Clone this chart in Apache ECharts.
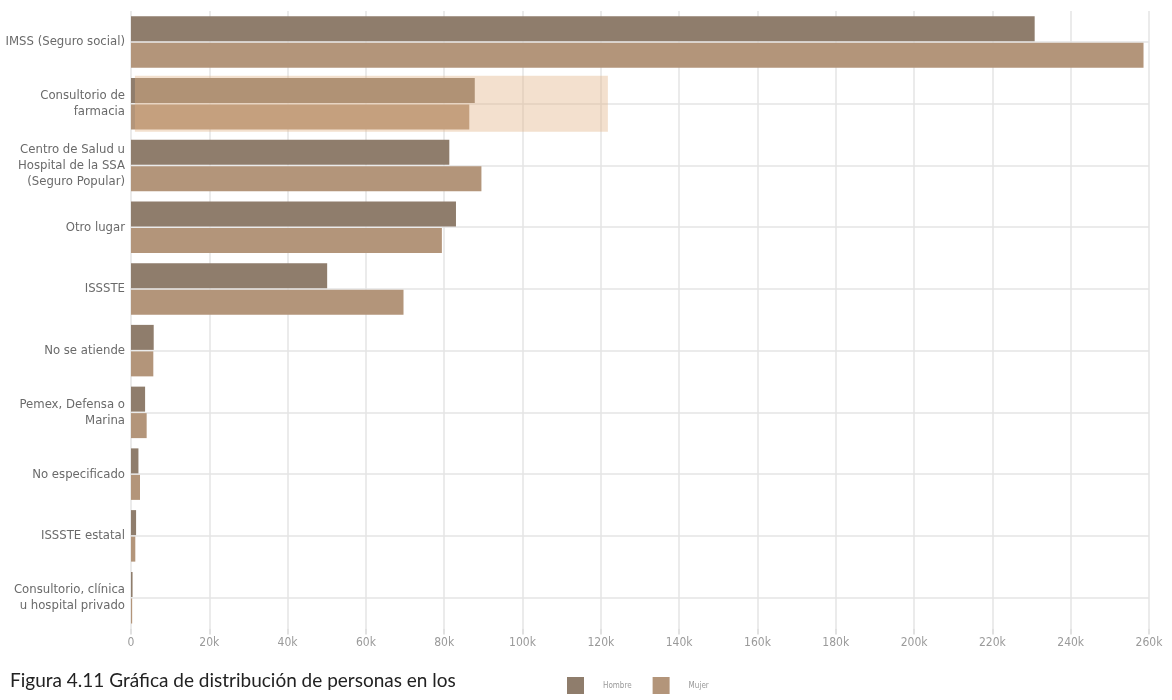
<!DOCTYPE html>
<html>
<head>
<meta charset="utf-8">
<script src="https://cdn.jsdelivr.net/npm/echarts@6/dist/echarts.min.js"></script>
<style>
html,body{margin:0;padding:0;background:#fff;}
#chart{width:1172px;height:700px;}
</style>
</head>
<body>
<div id="chart"></div>
<script>
const categories = [
  'IMSS (Seguro social)',
  'Consultorio de\nfarmacia',
  'Centro de Salud u\nHospital de la SSA\n(Seguro Popular)',
  'Otro lugar',
  'ISSSTE',
  'No se atiende',
  'Pemex, Defensa o\nMarina',
  'No especificado',
  'ISSSTE estatal',
  'Consultorio, clínica\nu hospital privado'
];
const hombre = [230800, 87800, 81300, 83000, 50100, 5800, 3600, 1900, 1300, 400];
const mujer  = [258600, 86400, 89500, 79400, 69600, 5700, 4000, 2300, 1100, 300];
const highlightBase = [null, 1000, null, null, null, null, null, null, null, null];
const highlightSpan = [null, 120800, null, null, null, null, null, null, null, null];
const xTicks = { min: 0, max: 260000, interval: 20000 };
const caption = 'Figura 4.11 Gráfica de distribución de personas en los\nestablecimientos de salud en los que se atienden';

const condensed = "'Liberation Sans Narrow', 'DejaVu Sans Condensed', 'Roboto', sans-serif";
const chart = echarts.init(document.getElementById('chart'));
chart.setOption({
  animation: false,
  backgroundColor: '#ffffff',
  title: {
    text: caption,
    left: 5,
    top: 662,
    textStyle: { fontFamily: "'Lato', 'Noto Sans', sans-serif", fontSize: 19, fontWeight: 'normal', color: '#222', lineHeight: 27 }
  },
  legend: {
    data: ['Hombre', 'Mujer'],
    left: 562,
    top: 672,
    itemWidth: 17,
    itemHeight: 17,
    itemGap: 21,
    icon: 'rect',
    textStyle: { fontFamily: condensed, fontSize: 8, color: '#999', padding: [0, 0, 0, 14] }
  },
  grid: { left: 131, right: 23, top: 11, bottom: 71.5, containLabel: false },
  xAxis: {
    type: 'value',
    min: xTicks.min, max: xTicks.max, interval: xTicks.interval,
    axisLine: { show: false },
    axisTick: { show: true, length: 6, lineStyle: { color: '#d8d8d8', width: 1.5 } },
    axisLabel: {
      margin: 8, fontFamily: condensed, fontSize: 12, color: '#9a9a9a',
      formatter: v => v === 0 ? '0' : (v / 1000) + 'k'
    },
    splitLine: { show: true, lineStyle: { color: '#e4e4e4', width: 1.5 } }
  },
  yAxis: [{
    type: 'category',
    data: categories,
    inverse: true,
    axisLine: { show: false },
    axisTick: { show: false, alignWithLabel: true },
    axisLabel: { margin: 6, fontFamily: condensed, fontSize: 13, color: '#6a6a6a', lineHeight: 16, align: 'right' },
    splitLine: { show: true, alignWithLabel: true, lineStyle: { color: '#e4e4e4', width: 1.5 } }
  }, {
    type: 'category',
    data: categories,
    inverse: true,
    show: false
  }],
  series: [{
    name: 'Hombre',
    type: 'bar',
    data: hombre,
    barWidth: 25,
    barGap: '6%',
    z: 2,
    itemStyle: { color: '#8f7d6c' }
  }, {
    name: 'Mujer',
    type: 'bar',
    data: mujer,
    barWidth: 25,
    barGap: '6%',
    z: 2,
    itemStyle: { color: '#b3957a' }
  }, {
    name: 'base',
    type: 'bar',
    yAxisIndex: 1,
    stack: 'hl',
    data: highlightBase,
    barWidth: 56,
    z: 3,
    silent: true,
    itemStyle: { color: 'rgba(0,0,0,0)' }
  }, {
    name: 'resaltado',
    type: 'bar',
    yAxisIndex: 1,
    stack: 'hl',
    data: highlightSpan,
    barWidth: 56,
    z: 3,
    silent: true,
    itemStyle: { color: 'rgba(226,178,132,0.4)' }
  }]
});
</script>
</body>
</html>
